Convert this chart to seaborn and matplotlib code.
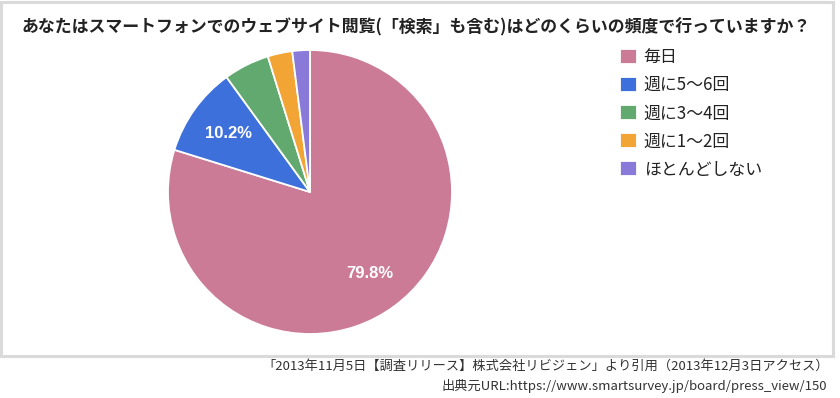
import matplotlib
matplotlib.use("Agg")
import matplotlib.pyplot as plt
import matplotlib.patches as mpatches
import seaborn as sns

# data
categories = ["毎日", "週に5〜6回", "週に3〜4回", "週に1〜2回", "ほとんどしない"]
shares = [79.8, 10.2, 5.2, 2.8, 2.0]
slice_colors = ["#CB7B96", "#3D70DB", "#61A96F", "#F2A535", "#8979D9"]

title = "あなたはスマートフォンでのウェブサイト閲覧(「検索」も含む)はどのくらいの頻度で行っていますか？"
caption_lines = [
    "「2013年11月5日【調査リリース】株式会社リビジェン」より引用（2013年12月3日アクセス）",
    "出典元URL:https://www.smartsurvey.jp/board/press_view/150",
]

sns.set_theme(style="white")
plt.rcParams["font.family"] = ["Noto Sans CJK JP", "DejaVu Sans"]

W, H = 840, 398
fig = plt.figure(figsize=(W / 100, H / 100), dpi=100)
fig.patch.set_facecolor("white")

# gray frame around the chart area
frame = mpatches.Rectangle((1 / W, (H - 356) / H), 832 / W, 354.5 / H,
                           transform=fig.transFigure, fill=False,
                           edgecolor="#DADADA", linewidth=2.2)
fig.patches.append(frame)

fig.text(416 / W, 1 - 27 / H, title, ha="center", va="center",
         fontsize=12.2, fontweight="bold", color="#222222")

# pie: center (310, 192), radius ~142 px
ax = fig.add_axes([168 / W, (H - 334) / H, 284 / W, 284 / H])


def pct_label(p):
    return f"{p:.1f}%" if p >= 10 else ""


wedges, texts, autotexts = ax.pie(
    shares, colors=sns.color_palette(slice_colors), startangle=90,
    counterclock=False, autopct=pct_label, pctdistance=0.71,
    wedgeprops=dict(edgecolor="white", linewidth=1.3))
for t in autotexts:
    t.set_color("white")
    t.set_fontweight("bold")
    t.set_fontsize(12)
    t.set_family(["Liberation Sans", "DejaVu Sans"])
ax.set_xlim(-1, 1)
ax.set_ylim(-1, 1)
ax.set_aspect("equal")
ax.axis("off")

fig.legend(wedges, categories, loc="upper left",
           bbox_to_anchor=(620 / W, 1 - 48 / H), frameon=False,
           fontsize=12.2, handlelength=1.0, handleheight=1.0,
           handletextpad=0.4, labelspacing=0.6, borderpad=0,
           borderaxespad=0, labelcolor="#222222")

fig.text(829 / W, 1 - 366 / H, caption_lines[0], ha="right", va="center",
         fontsize=9.5, color="#333333")
fig.text(827 / W, 1 - 386 / H, caption_lines[1], ha="right", va="center",
         fontsize=9.5, color="#333333")

fig.savefig("out.png", dpi=100, facecolor="white")
